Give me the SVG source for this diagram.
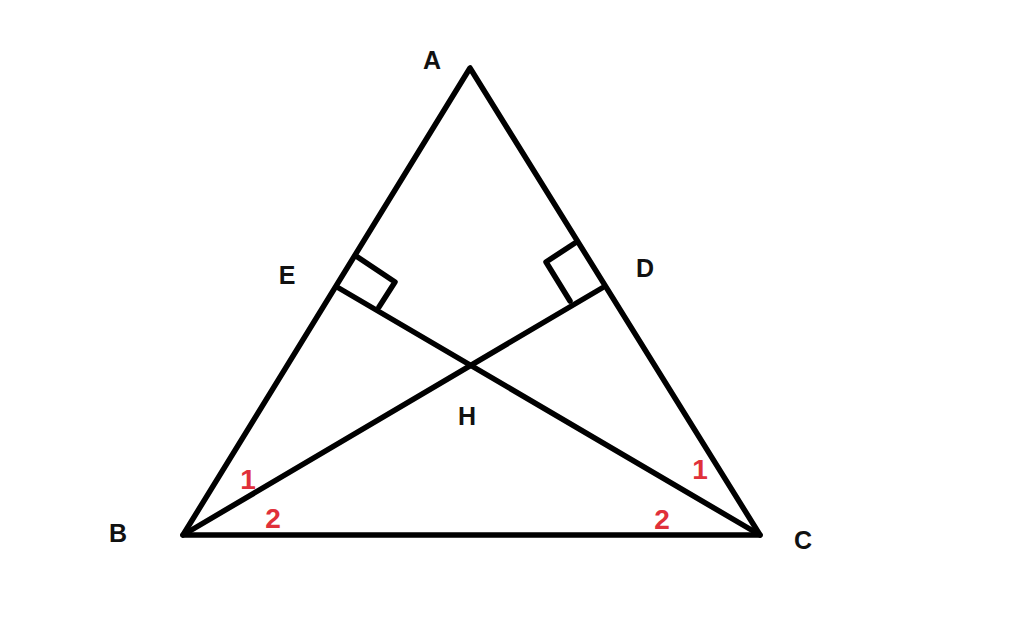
<svg xmlns="http://www.w3.org/2000/svg" width="1024" height="626" viewBox="0 0 1024 626">
<style>
.ln{stroke:#000;stroke-width:5.5;fill:none;stroke-linecap:round;stroke-linejoin:round}
.lb{font-family:"Liberation Sans",Arial,sans-serif;font-weight:bold;font-size:25px;fill:#111;text-anchor:middle}
.an{font-family:"Liberation Sans",Arial,sans-serif;font-weight:bold;font-size:28px;fill:#e0303a;text-anchor:middle}
</style>
<rect width="1024" height="626" fill="#fff"/>
<g id="connectors">
<path class="ln" d="M470,68 L183,535 L760,535 Z"/>
<line class="ln" x1="183" y1="535" x2="602" y2="288"/>
<line class="ln" x1="760" y1="535" x2="337" y2="287"/>
<polyline class="ln" points="356,256 395,282 379,307"/>
<polyline class="ln" points="575,243 546,262 570,301"/>
</g>
<g id="A"><text class="lb" x="432" y="69">A</text></g>
<g id="B"><text class="lb" x="118" y="542">B</text></g>
<g id="C"><text class="lb" x="803" y="549">C</text></g>
<g id="D"><text class="lb" x="645" y="277">D</text></g>
<g id="E"><text class="lb" x="287" y="284">E</text></g>
<g id="H"><text class="lb" x="467" y="425">H</text></g>
<g id="angles">
<text class="an" x="248" y="489">1</text>
<text class="an" x="273" y="528">2</text>
<text class="an" x="662" y="529">2</text>
<text class="an" x="700" y="479">1</text>
</g>
</svg>
